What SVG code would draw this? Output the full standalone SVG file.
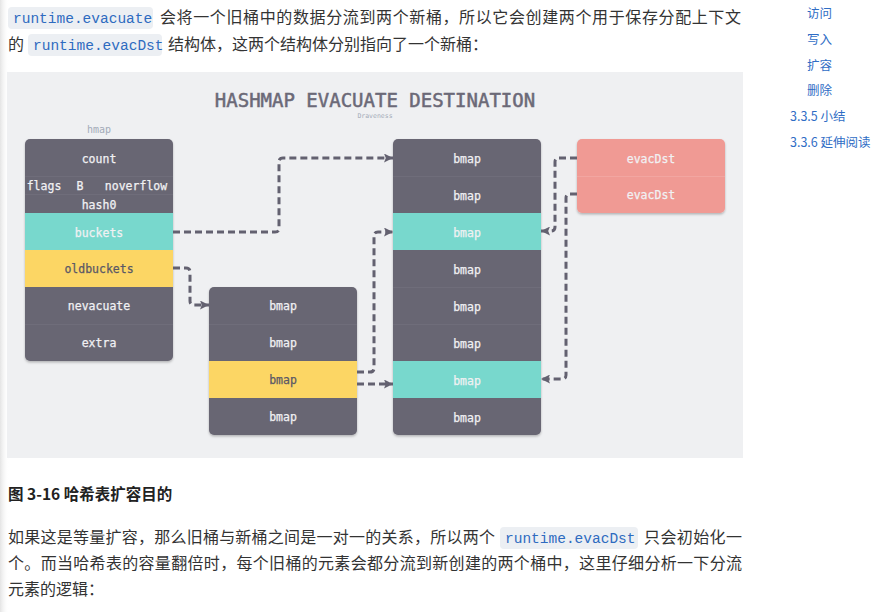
<svg xmlns="http://www.w3.org/2000/svg" width="883" height="612" viewBox="0 0 883 612">
<defs>
<style>
.body{font-family:"Noto Sans CJK SC","Liberation Sans",sans-serif;font-size:16px;fill:#333333}
.chipbg{fill:#eceff3}
.chip{font-family:"Liberation Mono","DejaVu Sans Mono",monospace;font-size:14.5px;fill:#2e6bc0}
.side{font-family:"Noto Sans CJK SC","Liberation Sans",sans-serif;font-size:12.5px;fill:#2f6dc5}
.t{font-family:"DejaVu Sans Mono",monospace;font-size:11.5px;fill:#f1f1f3;text-anchor:middle;stroke:#f1f1f3;stroke-width:0.25}
.td{fill:#5a5866;stroke:#5a5866}
.dark{fill:#686673}
.teal{fill:#78d8cd}
.yel{fill:#fcd664}
.sal{fill:#f09a94}
.sep{stroke:#6f6d7a;stroke-width:1}
.sepl{stroke:#f2a6a1;stroke-width:1}
.conn{fill:none;stroke:#636170;stroke-width:3;stroke-dasharray:7 4}
</style>
<marker id="ah" markerUnits="userSpaceOnUse" markerWidth="10" markerHeight="9" viewBox="0 0 10 10" refX="10" refY="5" orient="auto">
<path d="M0,0 L10,5 L0,10 L2,5 z" fill="#636170"/>
</marker>
<filter id="sh" x="-10%" y="-10%" width="120%" height="120%">
<feDropShadow dx="0" dy="1.5" stdDeviation="1.2" flood-color="#000" flood-opacity="0.25"/>
</filter>
<linearGradient id="edge" x1="0" x2="1" y1="0" y2="0">
<stop offset="0" stop-color="#e4e4e4"/>
<stop offset="1" stop-color="#ffffff" stop-opacity="0"/>
</linearGradient>
<clipPath id="c1"><rect x="25" y="139" width="148" height="222" rx="5"/></clipPath>
<clipPath id="c2"><rect x="209" y="287" width="148" height="148" rx="5"/></clipPath>
<clipPath id="c3"><rect x="393" y="139" width="148" height="296" rx="5"/></clipPath>
</defs>
<rect width="883" height="612" fill="#ffffff"/>
<rect x="0" y="0" width="9" height="612" fill="url(#edge)"/>

<!-- top paragraph -->
<rect class="chipbg" x="8" y="7" width="145" height="22" rx="4"/>
<text class="chip" x="13" y="23">runtime.evacuate</text>
<text class="body" x="160" y="23" textLength="581" lengthAdjust="spacing">会将一个旧桶中的数据分流到两个新桶，所以它会创建两个用于保存分配上下文</text>
<text class="body" x="8" y="50">的</text>
<rect class="chipbg" x="28" y="34" width="134" height="22" rx="4"/>
<text class="chip" x="33" y="50">runtime.evacDst</text>
<text class="body" x="168" y="50">结构体，这两个结构体分别指向了一个新桶：</text>

<!-- sidebar -->
<text class="side" x="807" y="18">访问</text>
<text class="side" x="807" y="44">写入</text>
<text class="side" x="807" y="70">扩容</text>
<text class="side" x="807" y="95">删除</text>
<text class="side" x="790" y="121">3.3.5 小结</text>
<text class="side" x="790" y="147">3.3.6 延伸阅读</text>

<!-- diagram background -->
<rect x="7" y="72" width="736" height="386" fill="#eff0f2"/>
<text x="375" y="107" text-anchor="middle" style="font-family:'DejaVu Sans Mono',monospace;font-size:19px;fill:#6b6977;stroke:#6b6977;stroke-width:0.5">HASHMAP EVACUATE DESTINATION</text>
<text x="375" y="118" text-anchor="middle" style="font-family:'DejaVu Sans Mono',monospace;font-size:6.5px;fill:#a3abb8">Draveness</text>
<text x="99" y="133" text-anchor="middle" style="font-family:'DejaVu Sans Mono',monospace;font-size:10px;fill:#a3abb8">hmap</text>

<!-- hmap -->
<g id="hmap">
<rect x="25" y="139" width="148" height="222" rx="5" class="dark" filter="url(#sh)"/>
<g clip-path="url(#c1)">
<rect x="25" y="213" width="148" height="37" class="teal"/>
<rect x="25" y="250" width="148" height="37" class="yel"/>
</g>
<line class="sep" x1="25" y1="176.5" x2="173" y2="176.5"/>
<line class="sep" x1="25" y1="194.5" x2="173" y2="194.5"/>
<line class="sep" x1="25" y1="324.5" x2="173" y2="324.5"/>
<text class="t" x="99" y="163">count</text>
<text class="t" x="44" y="190">flags</text>
<text class="t" x="80" y="190">B</text>
<text class="t" x="136" y="190">noverflow</text>
<text class="t" x="99" y="208.5">hash0</text>
<text class="t" x="99" y="237">buckets</text>
<text class="t td" x="99" y="273">oldbuckets</text>
<text class="t" x="99" y="310">nevacuate</text>
<text class="t" x="99" y="347">extra</text>
</g>

<!-- old buckets -->
<g id="oldbuckets">
<rect x="209" y="287" width="148" height="148" rx="5" class="dark" filter="url(#sh)"/>
<g clip-path="url(#c2)">
<rect x="209" y="361" width="148" height="37" class="yel"/>
</g>
<line class="sep" x1="209" y1="324.5" x2="357" y2="324.5"/>
<text class="t" x="283" y="310">bmap</text>
<text class="t" x="283" y="347">bmap</text>
<text class="t td" x="283" y="384">bmap</text>
<text class="t" x="283" y="421">bmap</text>
</g>

<!-- new buckets -->
<g id="newbuckets">
<rect x="393" y="139" width="148" height="296" rx="5" class="dark" filter="url(#sh)"/>
<g clip-path="url(#c3)">
<rect x="393" y="213" width="148" height="37" class="teal"/>
<rect x="393" y="361" width="148" height="37" class="teal"/>
</g>
<line class="sep" x1="393" y1="176.5" x2="541" y2="176.5"/>
<line class="sep" x1="393" y1="287.5" x2="541" y2="287.5"/>
<line class="sep" x1="393" y1="324.5" x2="541" y2="324.5"/>
<text class="t" x="467" y="163">bmap</text>
<text class="t" x="467" y="200">bmap</text>
<text class="t" x="467" y="237">bmap</text>
<text class="t" x="467" y="274">bmap</text>
<text class="t" x="467" y="311">bmap</text>
<text class="t" x="467" y="348">bmap</text>
<text class="t" x="467" y="385">bmap</text>
<text class="t" x="467" y="422">bmap</text>
</g>

<!-- evacDst -->
<g id="evacDst">
<rect x="577" y="139" width="148" height="74" rx="5" class="sal" filter="url(#sh)"/>
<line class="sepl" x1="577" y1="176.5" x2="725" y2="176.5"/>
<text class="t" x="651" y="163">evacDst</text>
<text class="t" x="651" y="199">evacDst</text>
</g>

<!-- connectors -->
<g id="connectors">
<path class="conn" marker-end="url(#ah)" d="M173,232 H275 Q279,232 279,228 V162 Q279,158 283,158 H393"/>
<path class="conn" marker-end="url(#ah)" d="M173,268 H186 Q190,268 190,272 V301 Q190,305 194,305 H209"/>
<path class="conn" marker-end="url(#ah)" d="M357,372 H370 Q374,372 374,368 V236 Q374,232 378,232 H393"/>
<path class="conn" marker-end="url(#ah)" d="M357,384 H393"/>
<path class="conn" marker-end="url(#ah)" d="M577,158 H559 Q555,158 555,162 V227 Q555,231 551,231 H541"/>
<path class="conn" marker-end="url(#ah)" d="M577,194 H570 Q566,194 566,198 V375 Q566,379 562,379 H541"/>
</g>

<!-- caption and paragraph -->
<text x="8" y="500" style="font-family:'Noto Sans CJK SC','Liberation Sans',sans-serif;font-size:15.5px;font-weight:bold;fill:#222222">图 3-16 哈希表扩容目的</text>
<text class="body" x="8" y="543" textLength="487" lengthAdjust="spacing">如果这是等量扩容，那么旧桶与新桶之间是一对一的关系，所以两个</text>
<rect class="chipbg" x="500" y="527" width="138" height="22" rx="4"/>
<text class="chip" x="505" y="543">runtime.evacDst</text>
<text class="body" x="644" y="543" textLength="98" lengthAdjust="spacing">只会初始化一</text>
<text class="body" x="8" y="569" textLength="734" lengthAdjust="spacing">个。而当哈希表的容量翻倍时，每个旧桶的元素会都分流到新创建的两个桶中，这里仔细分析一下分流</text>
<text class="body" x="8" y="595">元素的逻辑：</text>
</svg>
